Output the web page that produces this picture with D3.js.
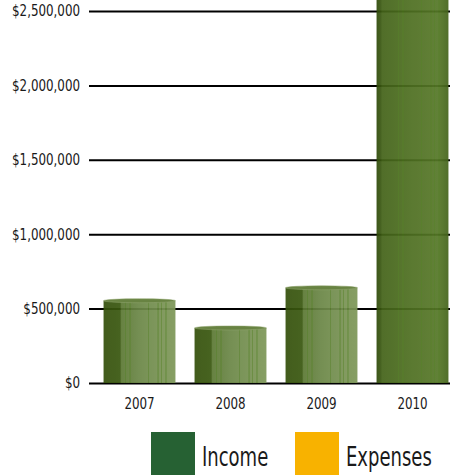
<!DOCTYPE html>
<html>
<head>
<meta charset="utf-8">
<script src="https://cdn.jsdelivr.net/npm/d3@7"></script>
<style>
  body { margin: 0; background: #fff; }
  text { font-family: "DejaVu Sans Condensed", "DejaVu Sans", sans-serif; font-stretch: condensed; fill: #1a1a1a; }
</style>
</head>
<body>
<script>
// chart data
const years = ["2007", "2008", "2009", "2010"];
const income = [553000, 370000, 640000, 2650000];
const yTicks = [0, 500000, 1000000, 1500000, 2000000, 2500000];
const legendItems = ["Income", "Expenses"];
const legendColors = ["#266133", "#f8b200"];

const width = 450, height = 475;

const svg = d3.select("body")
    .append("svg")
    .attr("width", width)
    .attr("height", height);

const y = d3.scaleLinear()
    .domain([0, 2500000])
    .range([383, 11]);

const x = d3.scaleBand()
    .domain(years)
    .range([94, 458])
    .paddingInner(0.21)
    .paddingOuter(0.105);

// squeeze text horizontally to mimic the narrow font of the original
function squeeze(sel, k) {
    sel.each(function() {
        const w = this.getComputedTextLength();
        d3.select(this).attr("textLength", w * k).attr("lengthAdjust", "spacingAndGlyphs");
    });
}

// gradients for the cylinder look (short bars vs the tall one)
const defs = svg.append("defs");
function gradient(id, stops) {
    const g = defs.append("linearGradient").attr("id", id);
    stops.forEach(s => g.append("stop").attr("offset", s[0]).attr("stop-color", s[1]));
}
gradient("cyl", [[0, "#34500b"], [0.23, "#3a5810"], [0.25, "#5c7934"], [0.5, "#6b8747"],
    [0.85, "#7a9455"], [1, "#7d9759"]]);
gradient("cylTall", [[0, "#2f4a09"], [0.05, "#37540f"], [0.08, "#446419"], [0.5, "#4f7022"],
    [0.85, "#567828"], [1, "#45641c"]]);

// gridlines + tick labels
const yAxis = d3.axisLeft(y)
    .tickValues(yTicks)
    .tickSize(0)
    .tickPadding(9)
    .tickFormat(d => "$" + d3.format(",")(d));

const gy = svg.append("g")
    .attr("transform", "translate(89,0)")
    .call(yAxis);
gy.select(".domain").remove();
gy.selectAll("text").attr("font-size", 15).call(squeeze, 0.88);
gy.selectAll(".tick").append("line")
    .attr("x1", 0).attr("x2", width - 89)
    .attr("stroke", "#000")
    .attr("stroke-width", 2);

// bars
const bw = x.bandwidth();
const streaks = [0.3, 0.36, 0.62, 0.75, 0.8, 0.86];

const bar = svg.append("g")
    .selectAll("g")
    .data(years.map((d, i) => ({year: d, value: income[i]})))
    .join("g")
    .attr("opacity", 0.93);

bar.append("rect")
    .attr("x", d => x(d.year))
    .attr("y", d => y(d.value))
    .attr("width", bw)
    .attr("height", d => y(0) - y(d.value))
    .attr("fill", d => d.value > 1500000 ? "url(#cylTall)" : "url(#cyl)");

streaks.forEach((s, j) => {
    bar.append("rect")
        .attr("x", d => x(d.year) + bw * s)
        .attr("y", d => y(d.value))
        .attr("width", j % 2 ? 1.2 : 0.8)
        .attr("height", d => y(0) - y(d.value))
        .attr("fill", "#4c7a1c")
        .attr("opacity", 0.6);
});

bar.append("ellipse")
    .attr("cx", d => x(d.year) + bw / 2)
    .attr("cy", d => y(d.value))
    .attr("rx", bw / 2)
    .attr("ry", 2)
    .attr("fill", "#5d7a34")
    .attr("stroke", "#8aa066")
    .attr("stroke-width", 0.5);

// x labels
const xAxis = d3.axisBottom(x).tickSize(0).tickPadding(15);
const gx = svg.append("g")
    .attr("transform", "translate(0,383)")
    .call(xAxis);
gx.select(".domain").remove();
gx.selectAll("text").attr("font-size", 15).call(squeeze, 0.88);

// legend
const lx = [151, 295];
const leg = svg.append("g")
    .selectAll("g")
    .data(legendItems)
    .join("g")
    .attr("transform", (d, i) => `translate(${lx[i]},432)`);

leg.append("rect")
    .attr("width", 44)
    .attr("height", 44)
    .attr("fill", (d, i) => legendColors[i]);

// narrow legend labels with a transform so their box stays inside the page
leg.append("text")
    .attr("transform", "translate(51,34) scale(0.77,1)")
    .attr("font-size", 26)
    .text(d => d);
</script>
</body>
</html>
